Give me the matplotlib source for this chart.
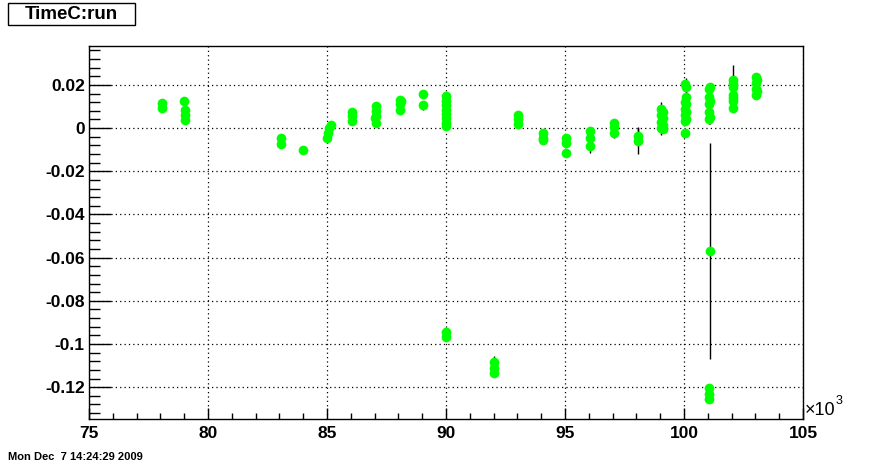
import matplotlib
matplotlib.use("Agg")
import matplotlib.pyplot as plt
from matplotlib.patches import Rectangle
from matplotlib.ticker import MultipleLocator, FuncFormatter

plt.rcParams['axes.unicode_minus'] = False

# run number (x 1000) and TimeC values
run_x = [78.07, 78.07,
         79.0, 79.02, 79.02, 79.02,
         83.07, 83.07,
         84.0,
         85.0, 85.05, 85.1, 85.15,
         86.05, 86.05, 86.05,
         87.05, 87.05, 87.05, 87.05, 87.0,
         88.05, 88.05, 88.05, 88.1,
         89.03, 89.03,
         90.0, 90.0, 90.0, 90.0, 90.0, 90.0, 90.0, 90.0,
         90.0, 90.0,
         92.02, 92.02, 92.02,
         93.03, 93.03, 93.03,
         94.08, 94.08, 94.08,
         95.04, 95.04, 95.04,
         96.05, 96.05, 96.05,
         97.06, 97.06, 97.06,
         98.07, 98.07,
         99.05, 99.05, 99.05, 99.05, 99.12, 99.12, 99.12, 99.12,
         100.03, 100.03, 100.03, 100.03, 100.03, 100.03,
         100.08, 100.08, 100.08, 100.08, 100.08,
         101.06, 101.06, 101.06, 101.06, 101.06, 101.1, 101.1, 101.1,
         101.1,
         101.05, 101.05, 101.05,
         102.04, 102.04, 102.04, 102.04, 102.04, 102.08, 102.08,
         103.03, 103.03, 103.03, 103.03, 103.08, 103.08]

timec = [0.0115, 0.0095,
         0.0125, 0.0082, 0.006, 0.0038,
         -0.0048, -0.0072,
         -0.0102,
         -0.0045, -0.0025, 0.0, 0.0015,
         0.0075, 0.0055, 0.0035,
         0.0100, 0.0078, 0.0058, 0.0025, 0.0045,
         0.0132, 0.0112, 0.0085, 0.0125,
         0.0157, 0.0106,
         0.015, 0.0125, 0.0105, 0.0085, 0.0065, 0.0045, 0.0025, 0.0008,
         -0.0945, -0.0970,
         -0.1085, -0.1110, -0.1135,
         0.0060, 0.0040, 0.0020,
         -0.0025, -0.0045, -0.0055,
         -0.0045, -0.0070, -0.0115,
         -0.0015, -0.0045, -0.0085,
         0.0022, 0.0005, -0.0025,
         -0.0035, -0.0060,
         0.009, 0.006, 0.003, 0.0, 0.0075, 0.0045, 0.0015, -0.0005,
         0.0205, 0.012, 0.009, 0.006, 0.0035, -0.0025,
         0.019, 0.0145, 0.011, 0.0075, 0.004,
         0.018, 0.0145, 0.011, 0.0075, 0.004, 0.019, 0.0125, 0.005,
         -0.0570,
         -0.1205, -0.1230, -0.1255,
         0.0225, 0.019, 0.0155, 0.0125, 0.0095, 0.0205, 0.0140,
         0.0235, 0.0210, 0.0180, 0.0155, 0.0225, 0.017]

timec_err = [0.001, 0.001,
             0.001, 0.001, 0.001, 0.001,
             0.001, 0.001,
             0.001,
             0.001, 0.001, 0.001, 0.001,
             0.001, 0.001, 0.001,
             0.001, 0.002, 0.001, 0.001, 0.001,
             0.001, 0.002, 0.001, 0.001,
             0.001, 0.002,
             0.001, 0.001, 0.001, 0.001, 0.001, 0.001, 0.001, 0.001,
             0.001, 0.001,
             0.003, 0.001, 0.002,
             0.001, 0.001, 0.001,
             0.001, 0.001, 0.002,
             0.001, 0.001, 0.001,
             0.001, 0.002, 0.003,
             0.001, 0.001, 0.002,
             0.004, 0.006,
             0.003, 0.001, 0.002, 0.003, 0.002, 0.001, 0.002, 0.002,
             0.002, 0.001, 0.002, 0.001, 0.002, 0.001,
             0.004, 0.002, 0.002, 0.003, 0.002,
             0.002, 0.002, 0.003, 0.002, 0.002, 0.002, 0.004, 0.003,
             0.050,
             0.001, 0.001, 0.001,
             0.002, 0.002, 0.003, 0.002, 0.002, 0.0085, 0.005,
             0.001, 0.001, 0.003, 0.002, 0.001, 0.002]

fig = plt.figure(figsize=(8.93, 4.66), dpi=100)
ax = fig.add_axes([0.0997, 0.1002, 0.7995, 0.8010])

ax.errorbar(run_x, timec, yerr=timec_err, fmt='none', ecolor='black', elinewidth=1, zorder=2)
ax.plot(run_x, timec, linestyle='none', marker='o', markersize=7,
        color='#00ff00', markeredgewidth=0, zorder=3)

ax.set_xlim(75, 105)
ax.set_ylim(-0.1349, 0.038)

ax.xaxis.set_major_locator(MultipleLocator(5))
ax.xaxis.set_minor_locator(MultipleLocator(1))
ax.yaxis.set_major_locator(MultipleLocator(0.02))
ax.yaxis.set_minor_locator(MultipleLocator(0.004))
ax.yaxis.set_major_formatter(FuncFormatter(lambda v, p: '%g' % round(v, 4)))
ax.xaxis.set_major_formatter(FuncFormatter(lambda v, p: '%g' % round(v, 4)))

ax.tick_params(axis='y', which='major', direction='in', length=15.8, width=1, pad=3)
ax.tick_params(axis='y', which='minor', direction='in', length=7.9, width=1)
ax.tick_params(axis='x', which='major', direction='in', length=7.9, width=1, pad=5)
ax.tick_params(axis='x', which='minor', direction='in', length=4.3, width=1)
ax.tick_params(top=False, right=False, which='both')

for lab in ax.get_xticklabels() + ax.get_yticklabels():
    lab.set_fontfamily('Liberation Sans')
    lab.set_fontweight('bold')
    lab.set_fontsize(12.5)

ax.grid(True, which='major', color='black', linestyle=(0, (1, 2.5)), linewidth=0.9)
ax.set_axisbelow(True)
for s in ax.spines.values():
    s.set_linewidth(1)

ax.text(1.003, 0.0, '×10', transform=ax.transAxes, ha='left', va='bottom',
        fontsize=13, family='Liberation Sans')
ax.text(1.046, 0.033, '3', transform=ax.transAxes, ha='left', va='bottom',
        fontsize=9, family='Liberation Sans')

# title box
fig.patches.append(Rectangle((8 / 893, 1 - 25 / 466), 127 / 893, 22 / 466,
                             transform=fig.transFigure, facecolor='white',
                             edgecolor='black', linewidth=1))
fig.text(71.5 / 893, 1 - 14.5 / 466, 'TimeC:run', ha='center', va='center',
         fontsize=13.5, fontweight='bold', family='Liberation Sans')
fig.text(8 / 893, 1 - 457 / 466, 'Mon Dec  7 14:24:29 2009', ha='left', va='center',
         fontsize=8, fontweight='bold', family='Liberation Sans')

fig.savefig('out.png', dpi=100)
